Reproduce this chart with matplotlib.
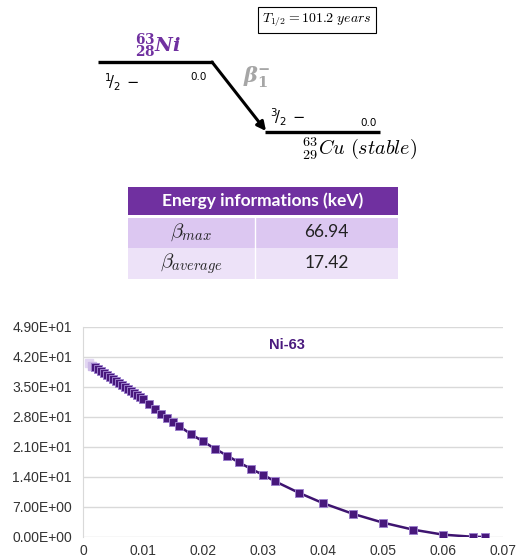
import matplotlib
matplotlib.use("Agg")
import matplotlib.pyplot as plt
from matplotlib.patches import Rectangle

# ---------------- data ----------------
energy_mev = [0.001, 0.0015, 0.002, 0.0025, 0.003, 0.0035, 0.004, 0.0045, 0.005,
              0.0055, 0.006, 0.0065, 0.007, 0.0075, 0.008, 0.0085, 0.009, 0.0095,
              0.010, 0.011, 0.012, 0.013, 0.014, 0.015, 0.016, 0.018, 0.020,
              0.022, 0.024, 0.026, 0.028, 0.030, 0.032, 0.036, 0.040, 0.045,
              0.050, 0.055, 0.060, 0.065, 0.067]
intensity = [40.5, 40.0, 39.6, 39.1, 38.7, 38.2, 37.7, 37.3, 36.8,
             36.3, 35.9, 35.4, 34.9, 34.5, 34.0, 33.6, 33.1, 32.6,
             32.2, 31.0, 29.8, 28.7, 27.8, 26.9, 25.9, 24.0, 22.3,
             20.6, 19.0, 17.4, 15.9, 14.5, 13.0, 10.3, 7.9, 5.4,
             3.35, 1.72, 0.55, 0.05, 0.0]
y_ticks = [0, 7, 14, 21, 28, 35, 42, 49]
y_tick_labels = ["0.00E+00", "7.00E+00", "1.40E+01", "2.10E+01",
                 "2.80E+01", "3.50E+01", "4.20E+01", "4.90E+01"]
x_ticks = [0, 0.01, 0.02, 0.03, 0.04, 0.05, 0.06, 0.07]
x_tick_labels = ["0", "0.01", "0.02", "0.03", "0.04", "0.05", "0.06", "0.07"]
table_header = "Energy informations (keV)"
table_names = [r"$\beta_{max}$", r"$\beta_{average}$"]
table_values = ["66.94", "17.42"]
half_life = r"$T_{1/2} = 101.2\ years$"
chart_title = "Ni-63"

W, H = 518, 560
fig = plt.figure(figsize=(W / 100, H / 100), dpi=100)
fig.patch.set_facecolor("white")

# ---------------- spectrum chart ----------------
ax = fig.add_axes([83 / W, 1 - 537 / H, 420 / W, 210 / H])
dark = "#3e1470"
ax.plot(energy_mev, intensity, color=dark, lw=1.8, zorder=2)
light_cols = ["#e2d6f2", "#cbb8e6"]
for i, (xv, yv) in enumerate(zip(energy_mev, intensity)):
    if i < len(light_cols):
        ax.plot(xv, yv, "s", ms=5.4, mfc=light_cols[i], mec=light_cols[i], zorder=3)
    else:
        ax.plot(xv, yv, "s", ms=5.4, mfc="#48187c", mec="#9c80cc", mew=0.7, zorder=3)
ax.set_xlim(0, 0.07)
ax.set_ylim(0, 49)
ax.set_xticks(x_ticks)
ax.set_xticklabels(x_tick_labels)
ax.set_yticks(y_ticks)
ax.set_yticklabels(y_tick_labels)
ax.grid(axis="y", color="#d9d9d9", lw=1.0)
ax.set_axisbelow(True)
for s in ["top", "right", "bottom"]:
    ax.spines[s].set_visible(False)
ax.spines["left"].set_color("#d9d9d9")
ax.tick_params(length=0, labelsize=10, labelcolor="#333333")
ax.tick_params(axis="y", pad=8)
ax.tick_params(axis="x", pad=5)
for lab in ax.get_xticklabels() + ax.get_yticklabels():
    lab.set_family("Liberation Sans")
ax.text(0.486, 0.914, chart_title, transform=ax.transAxes, ha="center", va="center",
        fontsize=10.5, fontweight="bold", color="#4a1a7e", family="Liberation Sans")

# ---------------- overlay for decay scheme and table ----------------
ov = fig.add_axes([0, 0, 1, 1])
ov.set_xlim(0, W)
ov.set_ylim(H, 0)
ov.axis("off")

# levels
ov.plot([98, 213], [62, 62], color="black", lw=2.4, solid_capstyle="butt")
ov.plot([265, 380], [131.5, 131.5], color="black", lw=2.4, solid_capstyle="butt")
ov.annotate("", xy=(266, 131), xytext=(212, 62),
            arrowprops=dict(arrowstyle="-|>", color="black", lw=2.2,
                            mutation_scale=13, shrinkA=0, shrinkB=0))

ov.text(135, 46, r"${}^{\mathbf{63}}_{\mathbf{28}}\mathbfit{Ni}$", color="#7030a0",
        fontsize=14, ha="left", va="center", math_fontfamily="dejavuserif")
ov.text(104, 82, r"${}^{1}\!/_{2}\,-$", fontsize=10.5, ha="left", va="center",
        color="black", math_fontfamily="dejavusans")
ov.text(190, 77, "0.0", fontsize=7.5, ha="left", va="center", color="black")
ov.text(243, 77, r"$\boldsymbol{\beta}_{\mathbf{1}}^{\mathbf{-}}$", fontsize=15, ha="left",
        va="center", color="#a6a6a6", math_fontfamily="dejavuserif")
ov.text(270, 117, r"${}^{3}\!/_{2}\,-$", fontsize=10.5, ha="left", va="center",
        color="black", math_fontfamily="dejavusans")
ov.text(360, 123, "0.0", fontsize=7.5, ha="left", va="center", color="black")
ov.text(302, 148, r"${}^{63}_{29}Cu\ (stable)$", fontsize=14.5, ha="left", va="center",
        color="black", math_fontfamily="cm")
ov.text(317, 20, half_life, fontsize=10, ha="center", va="center", color="black",
        math_fontfamily="cm",
        bbox=dict(boxstyle="square,pad=0.3", fc="white", ec="black", lw=0.8))

# table
tx0, tx1, tmid = 128, 398, 255
ov.add_patch(Rectangle((tx0, 187), tx1 - tx0, 28, fc="#7030a0", ec="none"))
ov.add_patch(Rectangle((tx0, 217.5), tx1 - tx0, 30, fc="#dcc7f1", ec="none"))
ov.add_patch(Rectangle((tx0, 248), tx1 - tx0, 31, fc="#ede2f8", ec="none"))
ov.plot([tmid, tmid], [217, 279], color="white", lw=1.0)
ov.text((tx0 + tx1) / 2, 201, table_header, color="white", fontsize=12.5,
        fontweight="bold", ha="center", va="center", family="Lato")
row_y = [232, 263.5]
for yv, nm, val in zip(row_y, table_names, table_values):
    ov.text((tx0 + tmid) / 2, yv, nm, fontsize=15, ha="center", va="center",
            color="#222222", math_fontfamily="cm")
    ov.text((tmid + tx1) / 2, yv, val, fontsize=12.5, ha="center", va="center",
            color="#222222", family="Lato")

fig.savefig("out.png", dpi=100)
